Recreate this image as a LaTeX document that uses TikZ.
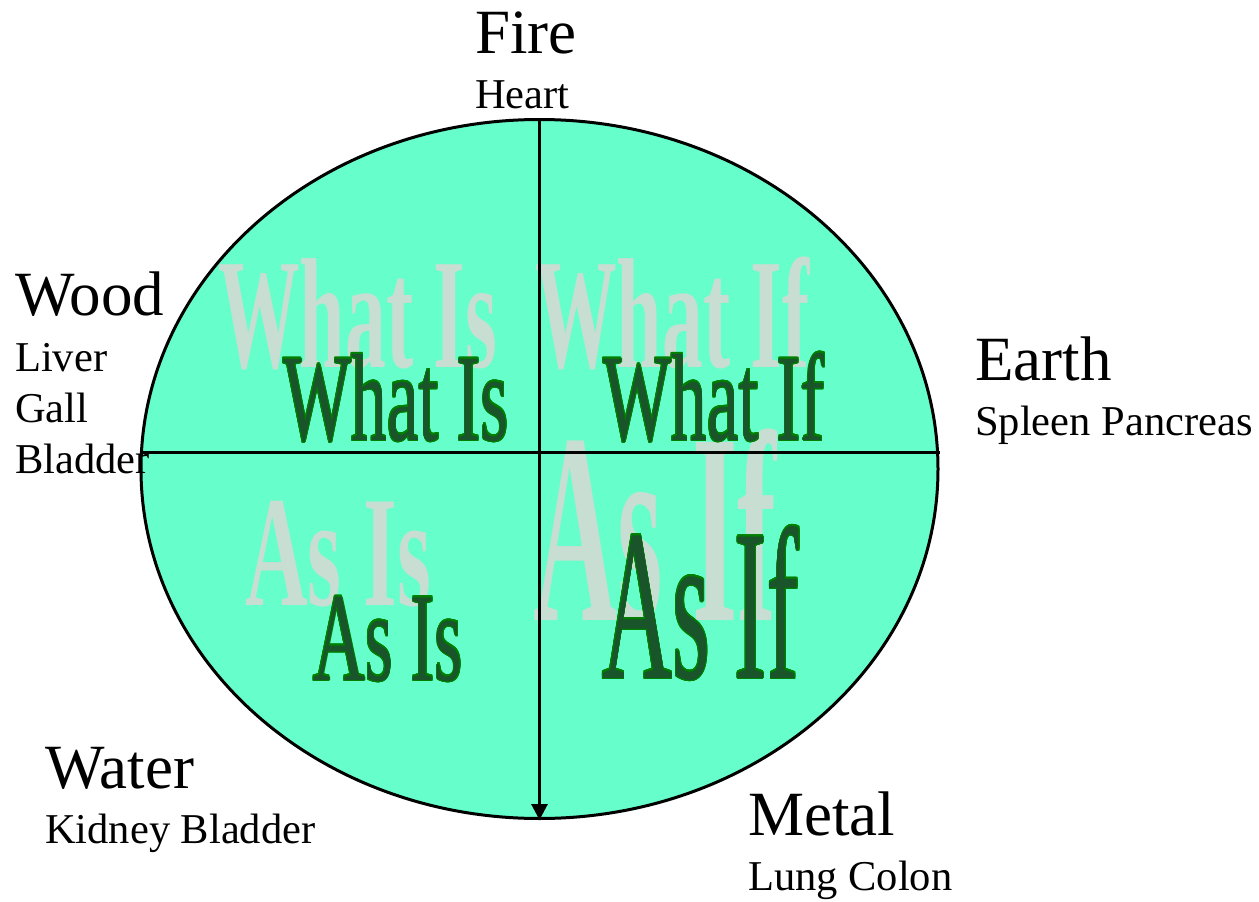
\documentclass[tikz,border=0pt]{standalone}
\usepackage{fontspec}
\setmainfont{Liberation Serif}
\usepackage[copies]{contour}
\contourlength{1.5pt}
\usetikzlibrary{positioning,shapes.geometric,arrows.meta}

\definecolor{wheelfill}{RGB}{102,255,204}
\definecolor{shadowgrey}{RGB}{200,222,210}
\definecolor{wordgreen}{RGB}{26,84,42}
\definecolor{wordedge}{RGB}{0,128,0}

% condensed tall lettering: x-scale, size, text
\newcommand{\wordart}[3]{\scalebox{#1}[1]{\fontsize{#2}{#2}\selectfont #3}}

\begin{document}
\begin{tikzpicture}[x=1pt, y=-1pt]
  % Define styles
  \tikzstyle{element}=[inner sep=0pt, anchor=base west, font=\fontsize{63}{63}\selectfont]
  \tikzstyle{organ}=[inner sep=0pt, anchor=base west, font=\fontsize{42.5}{51}\selectfont, align=left]
  \tikzstyle{shadow}=[inner sep=0pt, anchor=base west, text=shadowgrey, font=\bfseries]
  \tikzstyle{word}=[inner sep=0pt, anchor=base west, text=wordgreen]
  \tikzstyle{divider}=[line width=3pt]

  \useasboundingbox (0,0) rectangle (1259,902);

  % Wheel
  \node[ellipse, draw, line width=3pt, fill=wheelfill, minimum width=797pt, minimum height=699pt, inner sep=0pt] (wheel) at (539.5,469) {};

  % Shadow words
  \node[shadow] (whatisback) at (218,367) {\wordart{0.52}{157}{What Is}};
  \node[shadow] (whatifback) at (535,367) {\wordart{0.52}{157}{What If}};
  \node[shadow] (asisback) at (245,605) {\wordart{0.55}{158}{As Is}};
  \node[shadow] (asifback) at (533,620) {\wordart{0.43}{272}{As If}};

  % Quadrant lines
  \draw[divider] ([yshift=17pt]wheel.west) -- ([yshift=17pt]wheel.east);
  \draw[divider, -{Triangle[width=16pt, length=16pt]}] (wheel.north) -- (wheel.south);

  % Green words
  \node[word] (whatis) at (283,440) {\wordart{0.58}{124}{\contour{wordedge}{What Is}}};
  \node[word] (whatif) at (603,440) {\wordart{0.58}{124}{\contour{wordedge}{What If}}};
  \node[word] (asis) at (313,680) {\wordart{0.57}{126}{\contour{wordedge}{As Is}}};
  \node[word] (asif) at (602,678) {\wordart{0.45}{216}{\contour{wordedge}{As If}}};

  % Elements
  \node[element] (fire) at (475,53) {Fire};
  \node[organ, below=55pt of fire.base west, anchor=base west] (heart) {Heart};
  \node[element] (wood) at (15,315) {Wood};
  \node[organ, below=158pt of wood.base west, anchor=base west] (liver) {Liver\\Gall\\Bladder};
  \node[element] (earth) at (975,380) {Earth};
  \node[organ, below=55pt of earth.base west, anchor=base west] (spleen) {Spleen Pancreas};
  \node[element] (water) at (45,788) {Water};
  \node[organ, below=55pt of water.base west, anchor=base west] (kidney) {Kidney Bladder};
  \node[element] (metal) at (748,835) {Metal};
  \node[organ, below=55pt of metal.base west, anchor=base west] (lung) {Lung Colon};
\end{tikzpicture}
\end{document}
